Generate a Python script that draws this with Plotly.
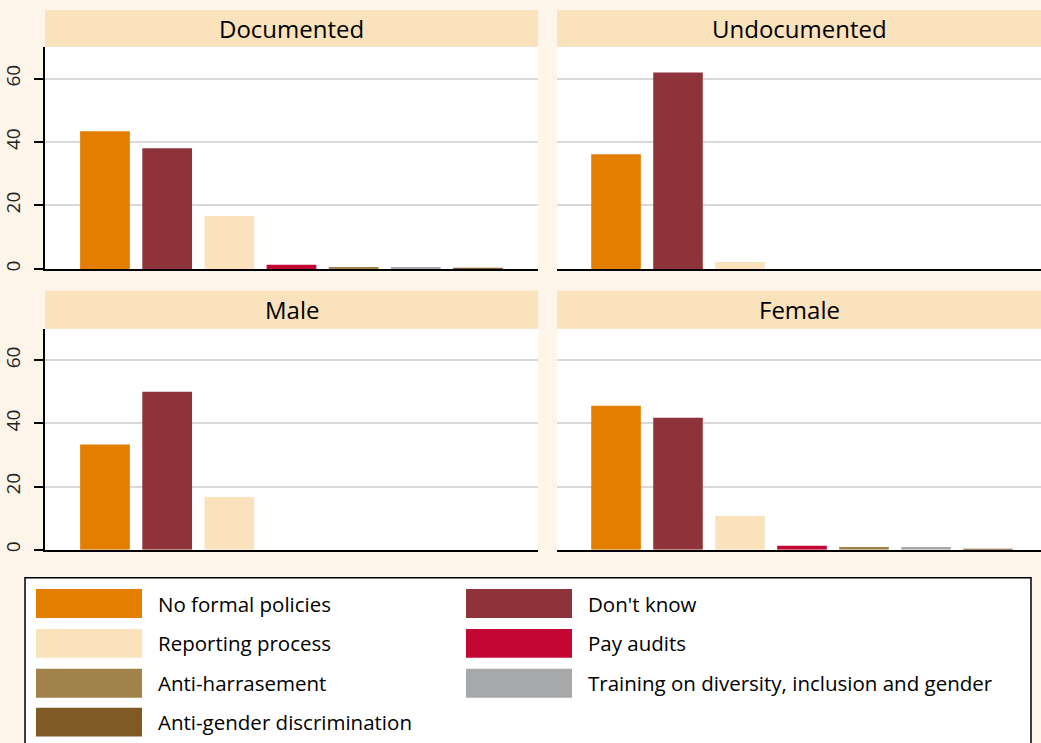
import plotly.graph_objects as go

W, H = 1041, 743

categories = ["No formal policies", "Don't know", "Reporting process", "Pay audits",
              "Anti-harrasement", "Training on diversity, inclusion and gender",
              "Anti-gender discrimination"]
colors = ["#E37E00", "#8F333B", "#F9E2BC", "#C30735", "#A0824A", "#A7A8AA", "#7F5A24"]

panels = ["Documented", "Undocumented", "Male", "Female"]
documented = [43.4, 38.0, 16.7, 1.3, 0.6, 0.6, 0.3]
undocumented = [36.1, 61.9, 2.2, 0.0, 0.0, 0.0, 0.0]
male = [33.3, 50.0, 16.7, 0.0, 0.0, 0.0, 0.0]
female = [45.6, 41.8, 10.7, 1.3, 0.9, 0.9, 0.3]
panel_values = [documented, undocumented, male, female]

y_ticks = [0, 20, 40, 60]
y_range = [0, 70]

BG = "#FDF5EA"
STRIP = "#F9E2BC"
FONT = "Open Sans"

def px_x(p):
    return p / W

def px_y(p):
    return 1 - p / H

# panel pixel boxes: (left, right, top, bottom)
boxes = [(45, 538, 47, 270), (557, 1041, 47, 270), (45, 538, 330, 552), (557, 1041, 330, 552)]
strip_tops = [10, 10, 292, 292]
x_ranges = [[-0.965, 6.965], [-0.952, 6.855], [-0.965, 6.965], [-0.952, 6.855]]

fig = go.Figure()
layout = dict(width=W, height=H, autosize=False, margin=dict(l=0, r=0, t=0, b=0),
              paper_bgcolor=BG, plot_bgcolor="white", showlegend=False,
              font=dict(family=FONT, color="black"))
shapes = []
annotations = []

for i, (name, vals) in enumerate(zip(panels, panel_values)):
    sfx = "" if i == 0 else str(i + 1)
    fig.add_trace(go.Bar(x=categories, y=vals, marker=dict(color=colors, line=dict(width=0)),
                         xaxis="x" + sfx, yaxis="y" + sfx, width=0.8, name=name))
    l, r, t, b = boxes[i]
    left_col = i in (0, 2)
    layout["xaxis" + sfx] = dict(domain=[px_x(l), px_x(r)], anchor="y" + sfx,
                                 range=x_ranges[i], showticklabels=False, showgrid=False,
                                 showline=True, linecolor="black", linewidth=2, ticks="",
                                 zeroline=False, fixedrange=True)
    layout["yaxis" + sfx] = dict(domain=[px_y(b), px_y(t)], anchor="x" + sfx,
                                 range=y_range, tickvals=y_ticks, showticklabels=left_col,
                                 tickangle=-90, tickfont=dict(size=19, family=FONT, color="#222"),
                                 ticklabelstandoff=7,
                                 showgrid=True, gridcolor="#D9D9D9", gridwidth=1.5,
                                 showline=left_col, linecolor="black", linewidth=1.5,
                                 ticks="outside" if left_col else "", ticklen=9,
                                 tickcolor="black", tickwidth=1.5, zeroline=False,
                                 fixedrange=True)
    st = strip_tops[i]
    shapes.append(dict(type="rect", xref="paper", yref="paper", x0=px_x(l), x1=px_x(r),
                       y0=px_y(t), y1=px_y(st), fillcolor=STRIP, line=dict(width=0), layer="below"))
    annotations.append(dict(text=name, xref="paper", yref="paper", x=px_x((l + r) / 2),
                            y=px_y((st + t) / 2), showarrow=False, xanchor="center",
                            yanchor="middle", font=dict(size=24, family=FONT, color="black")))

# legend box
shapes.append(dict(type="rect", xref="paper", yref="paper", x0=px_x(25), x1=px_x(1031),
                   y0=px_y(760), y1=px_y(580), fillcolor="white",
                   line=dict(color="black", width=1.5)))
row_centers = [606, 646, 686, 725]
col_swatch = [36, 466]
for k, (cat, col) in enumerate(zip(categories, colors)):
    row, c = divmod(k, 2)
    yc = row_centers[row]
    sx = col_swatch[c]
    shapes.append(dict(type="rect", xref="paper", yref="paper", x0=px_x(sx), x1=px_x(sx + 106),
                       y0=px_y(yc + 14.5), y1=px_y(yc - 14.5), fillcolor=col, line=dict(width=0)))
    annotations.append(dict(text=cat, xref="paper", yref="paper", x=px_x(sx + 120), y=px_y(yc),
                            showarrow=False, xanchor="left", yanchor="middle",
                            font=dict(size=20.5, family=FONT, color="black")))

layout["shapes"] = shapes
layout["annotations"] = annotations
fig.update_layout(**layout)
fig.write_html("out.html", config={"displayModeBar": False},
               post_script="document.body.style.margin='0';document.body.style.overflow='hidden';")
